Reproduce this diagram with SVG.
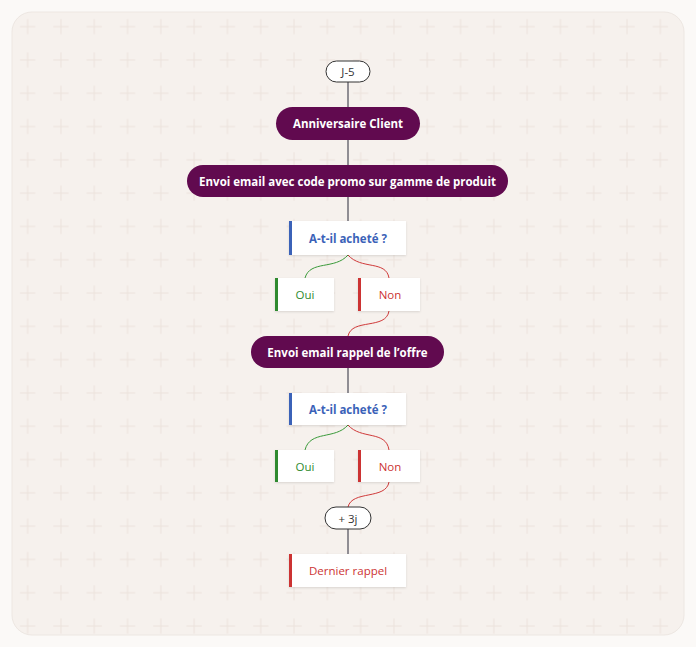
<svg xmlns="http://www.w3.org/2000/svg" width="696" height="647" viewBox="0 0 696 647">
<defs>
<pattern id="g" x="11" y="10" width="33.3" height="33.3" patternUnits="userSpaceOnUse">
<path d="M16.65 9v15.3M9 16.65h15.3" stroke="#ebe2dc" stroke-width="1" fill="none"/>
</pattern>
<filter id="sh" x="-10%" y="-30%" width="120%" height="160%"><feDropShadow dx="0" dy="1" stdDeviation="1.2" flood-color="#000" flood-opacity="0.12"/></filter>
</defs>
<style>
.t{font-family:"Open Sans","Liberation Sans",sans-serif;font-size:11.5px;text-anchor:middle;dominant-baseline:central}
.p{fill:#610a4f}.pt{fill:#fff;font-weight:bold}
.b{fill:#fff;filter:url(#sh)}
.l{stroke:#2b2b3b;stroke-width:1;fill:none}
</style>
<rect x="0" y="0" width="696" height="647" fill="#fbf9f7"/>
<rect x="12" y="12" width="672" height="623" rx="20" fill="#f6f1ed" stroke="#ede7e2"/>
<rect x="12" y="12" width="672" height="623" rx="20" fill="url(#g)"/>
<g id="connectors">
<path class="l" d="M348 82V107M348 140V165M348 197V221M348 368V393M348 529V554"/>
<path d="M348 255C335 270 310 260 305 278M348 425C335 440 310 430 305 450" stroke="#3a9a3a" fill="none"/>
<path d="M348 255C361 270 386 260 389 278M389 311C386 330 352 318 348 336M348 425C361 440 386 430 389 450M389 482C386 500 352 490 348 507" stroke="#d03a3a" fill="none"/>
</g>
<g id="j5"><rect x="326" y="61" width="44" height="21" rx="10.5" fill="#fff" stroke="#333"/><text class="t" x="348" y="71.5" fill="#333">J-5</text></g>
<g id="anniv"><rect class="p" x="276" y="107" width="144" height="33" rx="16.5"/><text class="t pt" x="348" y="123.5">Anniversaire Client</text></g>
<g id="envoi1"><rect class="p" x="187" y="165" width="321" height="32" rx="16"/><text class="t pt" x="347.5" y="181">Envoi email avec code promo sur gamme de produit</text></g>
<g id="q1"><rect class="b" x="289" y="221" width="117" height="34"/><rect x="289" y="221" width="3" height="34" fill="#3b62b8"/><text class="t" x="348" y="238" fill="#3b62b8" font-weight="bold">A-t-il acheté ?</text></g>
<g id="oui1"><rect class="b" x="275" y="278" width="59" height="33"/><rect x="275" y="278" width="3" height="33" fill="#2f8a2f"/><text class="t" x="305" y="294.5" fill="#2f8a2f">Oui</text></g>
<g id="non1"><rect class="b" x="358" y="278" width="62" height="33"/><rect x="358" y="278" width="3" height="33" fill="#cc3333"/><text class="t" x="390" y="294.5" fill="#cc3333">Non</text></g>
<g id="envoi2"><rect class="p" x="251" y="336" width="193" height="32" rx="16"/><text class="t pt" x="347.5" y="352">Envoi email rappel de l’offre</text></g>
<g id="q2"><rect class="b" x="289" y="393" width="117" height="32"/><rect x="289" y="393" width="3" height="32" fill="#3b62b8"/><text class="t" x="348" y="409" fill="#3b62b8" font-weight="bold">A-t-il acheté ?</text></g>
<g id="oui2"><rect class="b" x="275" y="450" width="59" height="32"/><rect x="275" y="450" width="3" height="32" fill="#2f8a2f"/><text class="t" x="305" y="466" fill="#2f8a2f">Oui</text></g>
<g id="non2"><rect class="b" x="358" y="450" width="62" height="32"/><rect x="358" y="450" width="3" height="32" fill="#cc3333"/><text class="t" x="390" y="466" fill="#cc3333">Non</text></g>
<g id="p3j"><rect x="325" y="507" width="46" height="22" rx="11" fill="#fff" stroke="#333"/><text class="t" x="348" y="518" fill="#333">+ 3j</text></g>
<g id="dernier"><rect class="b" x="289" y="554" width="117" height="33"/><rect x="289" y="554" width="3" height="33" fill="#cc3333"/><text class="t" x="348" y="570.5" fill="#cc3333">Dernier rappel</text></g>
</svg>
